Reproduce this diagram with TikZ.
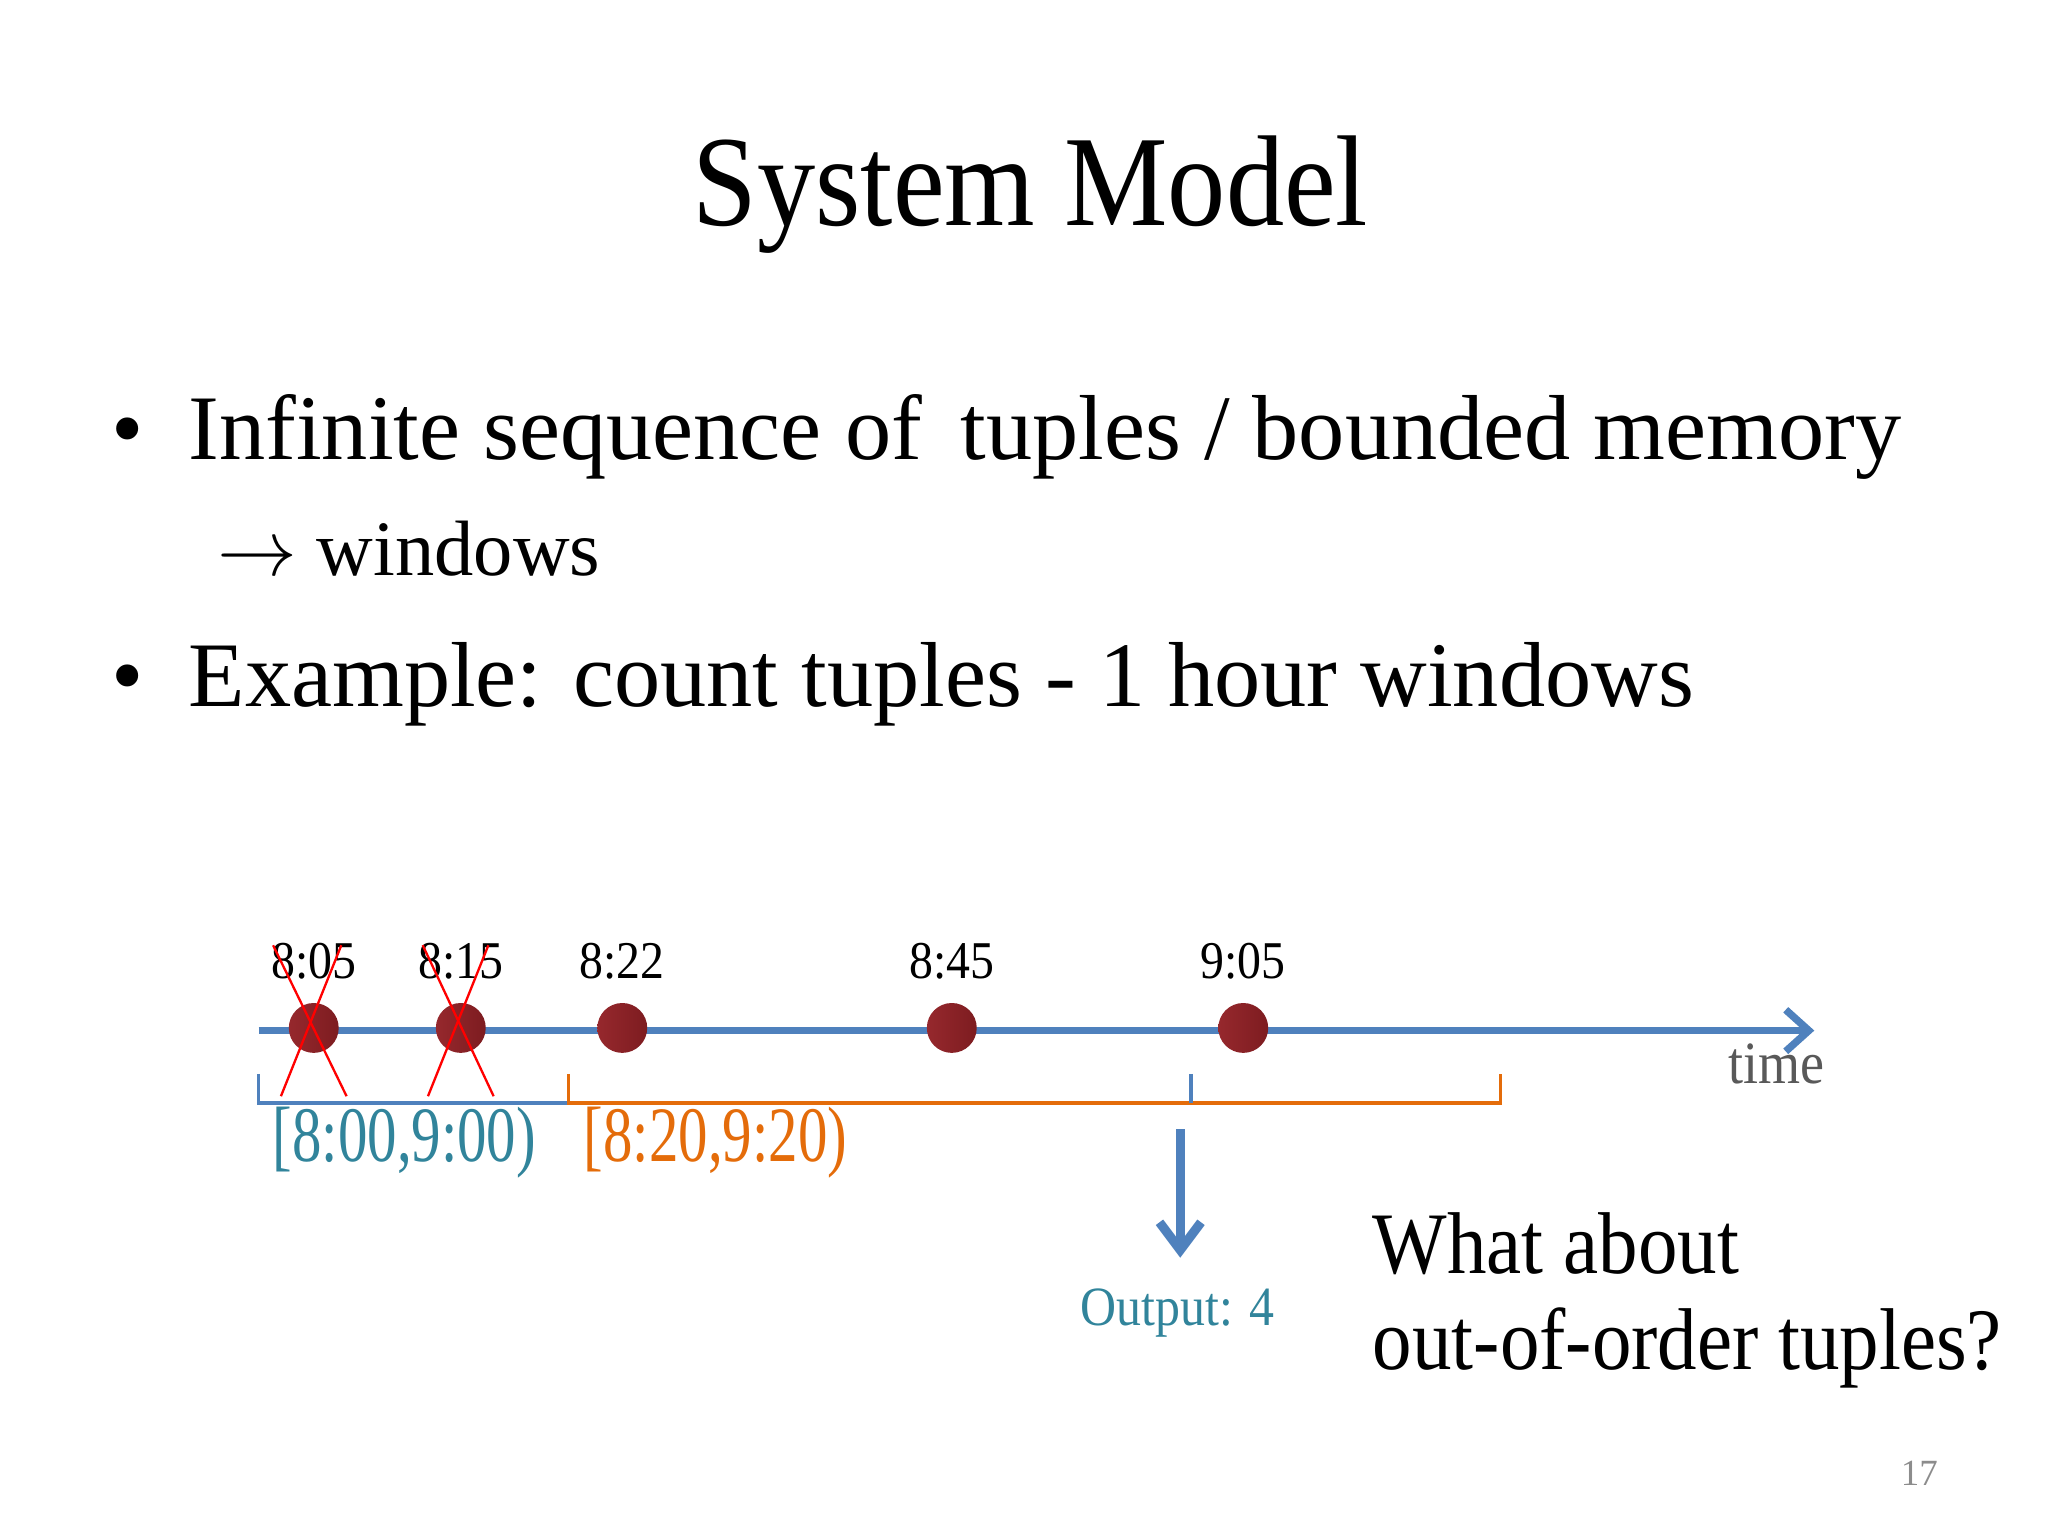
\documentclass[tikz,border=0pt]{standalone}
\usepackage{fontspec}
\setmainfont{Liberation Serif}
\newfontfamily\nar[FakeStretch=0.9]{Liberation Serif}
\newfontfamily\nnar[FakeStretch=0.75]{Liberation Serif}
\usetikzlibrary{arrows.meta}
\definecolor{axisblue}{RGB}{79,129,189}
\definecolor{teal}{RGB}{49,132,155}
\definecolor{orng}{RGB}{228,108,10}
\definecolor{dot}{RGB}{125,28,32}
\definecolor{dotl}{RGB}{150,40,45}
\begin{document}
\begin{tikzpicture}[x=0.01cm,y=-0.01cm,
  tl/.style={font=\nar\fontsize{11.5}{14}\selectfont,anchor=base},
  cross/.style={red,line width=0.5pt},
  br/.style={line width=0.8pt}]
\useasboundingbox (0,0) rectangle (1560,1170);
\node[font=\nar\fontsize{28}{34}\selectfont] (title) at (785,148) {System Model};
\node[anchor=base,font=\fontsize{20}{24}\selectfont] (d1) at (97,350) {•};
\node[anchor=base west,font=\fontsize{20}{24}\selectfont,inner sep=0pt] (b1) at (143,350) {Infinite sequence of\, tuples / bounded memory};
\node[anchor=base west,font=\fontsize{17}{20}\selectfont,inner sep=0pt] (b1a) at (165,438) {$\rightarrow$ windows};
\node[anchor=base,font=\fontsize{20}{24}\selectfont] (d2) at (97,538) {•};
\node[anchor=base west,font=\fontsize{20}{24}\selectfont,inner sep=0pt] (b2) at (143,538) {Example: count tuples - 1 hour windows};
\coordinate (a0) at (197,785); \coordinate (a1) at (1382,785);
\draw[axisblue,line width=1.6pt,-{Straight Barb[length=5pt,width=9pt]}] (a0) -- (a1);
\foreach \x/\t/\n in {239/8:05/p1,351/8:15/p2,474/8:22/p3,725/8:45/p4,947/9:05/p5}{
  \shade[left color=dotl,right color=dot] (\x,783) circle[radius=19];
  \node[tl] (\n) at (\x,745) {\t};}
\draw[cross] (208,720) -- (264,835); \draw[cross] (260,720) -- (214,835);
\draw[cross] (322,720) -- (376,835); \draw[cross] (372,720) -- (326,835);
\node[font=\nar\fontsize{13}{15}\selectfont,text=black!65,anchor=base] (time) at (1353,825) {time};
\draw[br,axisblue] (197,818) -- (197,840) -- (433,840);
\draw[br,orng] (433,818) -- (433,840) -- (1143,840) -- (1143,818);
\draw[br,axisblue] (907,818) -- (907,840);
\node[font=\nnar\fontsize{17}{20}\selectfont,text=teal,anchor=base] (w1) at (308,885) {[8:00,9:00)};
\node[font=\nnar\fontsize{17}{20}\selectfont,text=orng,anchor=base] (w2) at (545,885) {[8:20,9:20)};
\node[font=\nar\fontsize{12}{15}\selectfont,text=teal,anchor=base] (out) at (897,1010) {Output: 4};
\coordinate (s) at (899,860);
\draw[axisblue,line width=2pt,-{Straight Barb[length=6pt,width=9pt]}] (s) -- (899,958);
\node[anchor=base west,font=\nar\fontsize{19}{22}\selectfont,inner sep=0pt] (q1) at (1045,970) {What about};
\node[anchor=base west,font=\nar\fontsize{19}{22}\selectfont,inner sep=0pt] (q2) at (1045,1043) {out-of-order tuples?};
\node[font=\fontsize{8}{10}\selectfont,text=black!45] (pg) at (1462,1122) {17};
\end{tikzpicture}
\end{document}
